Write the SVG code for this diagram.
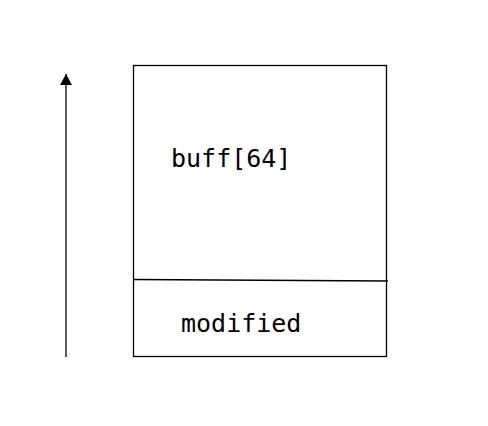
<svg xmlns="http://www.w3.org/2000/svg" width="488" height="426" viewBox="0 0 488 426">
<style>
.box{fill:none;stroke:#000;stroke-width:1.3}
.lbl{font-family:"DejaVu Sans Mono","Liberation Mono",monospace;font-size:25px;fill:#000}
.conn{stroke:#000;stroke-width:1.3;fill:none}
</style>
<defs>
<marker id="ah" markerUnits="userSpaceOnUse" markerWidth="12" markerHeight="12" refX="11" refY="6" orient="auto">
<path d="M0,0 L11,6 L0,12 Z" fill="#000"/>
</marker>
</defs>
<rect width="488" height="426" fill="#fff"/>
<g id="stack">
<rect class="box" x="133.5" y="65.5" width="253" height="291"/>
<path class="box" d="M133.5,279.5 L388,281"/>
</g>
<g id="node-buff">
<text class="lbl" x="171" y="167">buff[64]</text>
</g>
<g id="node-modified">
<text class="lbl" x="181" y="332">modified</text>
</g>
<g id="connectors">
<path class="conn" d="M66,357 L66,74" marker-end="url(#ah)"/>
</g>
</svg>
